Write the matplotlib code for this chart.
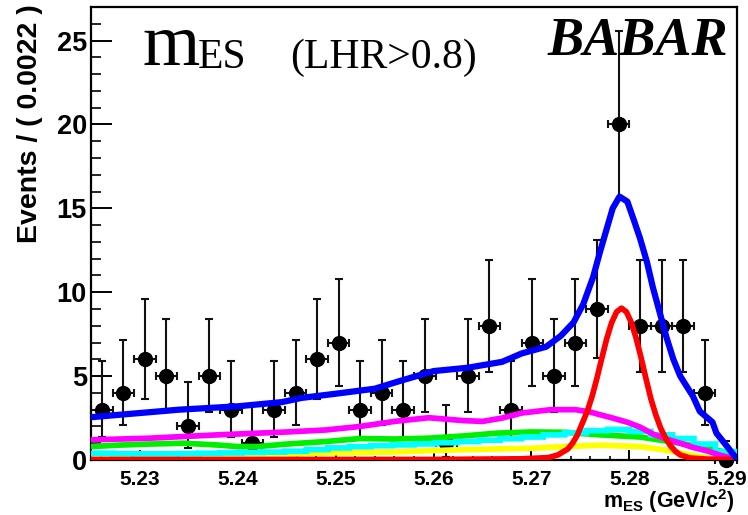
import math
import numpy as np
import matplotlib
matplotlib.use("Agg")
import matplotlib.pyplot as plt
from matplotlib.ticker import MultipleLocator, FormatStrFormatter

plt.rcParams['font.family'] = ['Liberation Sans', 'DejaVu Sans']
plt.rcParams['font.weight'] = 'bold'
plt.rcParams['mathtext.fontset'] = 'custom'
plt.rcParams['mathtext.rm'] = 'Liberation Sans:bold'
plt.rcParams['mathtext.bf'] = 'Liberation Sans:bold'
plt.rcParams['mathtext.default'] = 'bf'

# ---- binning and data ----
x_lo, x_hi = 5.225, 5.291
bin_width = 0.0022
counts = [3, 4, 6, 5, 2, 5, 3, 1, 3, 4, 6, 7, 3, 4, 3,
          5, 1, 5, 8, 3, 7, 5, 7, 9, 20, 8, 8, 8, 4, 0]

# ---- fit components (sampled curves) ----
total_x = [5.2250, 5.2300, 5.2340, 5.2400, 5.2445, 5.2465, 5.2500, 5.2540,
           5.2565, 5.2600, 5.2635, 5.2670, 5.2690, 5.2715, 5.2730, 5.2743,
           5.2753, 5.2763, 5.2770, 5.2777, 5.2783, 5.2790, 5.2798, 5.2804,
           5.2811, 5.2818, 5.2824, 5.2831, 5.2838, 5.2845, 5.2852, 5.2859,
           5.2865, 5.2872, 5.2879, 5.2885, 5.2889, 5.2900, 5.2910]
total_y = [2.55, 2.80, 3.00, 3.20, 3.45, 3.70, 3.95, 4.25,
           4.70, 5.30, 5.50, 5.85, 6.35, 6.75, 7.40, 8.20,
           9.30, 10.9, 12.4, 13.8, 15.0, 15.7, 15.4, 14.4,
           13.2, 11.8, 10.3, 8.80, 7.30, 6.00, 5.00, 4.35,
           3.80, 2.90, 2.55, 2.25, 1.60, 0.80, 0.05]

signal_x = [5.2250, 5.2600, 5.2690, 5.2717, 5.2727, 5.2737, 5.2742, 5.2747,
            5.2752, 5.2757, 5.2762, 5.2767, 5.2772, 5.2777, 5.2782, 5.2787,
            5.2792, 5.2797, 5.2802, 5.2807, 5.2812, 5.2817, 5.2822, 5.2827,
            5.2832, 5.2837, 5.2842, 5.2847, 5.2852, 5.2862, 5.2880, 5.2910]
signal_y = [0.03, 0.03, 0.07, 0.14, 0.30, 0.65, 1.00, 1.50,
            2.20, 2.90, 3.80, 4.90, 6.10, 7.25, 8.20, 8.83,
            9.05, 8.83, 8.20, 7.25, 6.10, 4.85, 3.65, 2.70,
            1.90, 1.30, 0.85, 0.52, 0.30, 0.12, 0.05, 0.03]

magenta_x = [5.2250, 5.2310, 5.2380, 5.2450, 5.2490, 5.2525, 5.2560, 5.2595,
             5.2630, 5.2650, 5.2670, 5.2690, 5.2720, 5.2745, 5.2760, 5.2770,
             5.2783, 5.2798, 5.2811, 5.2824, 5.2838, 5.2852, 5.2865, 5.2879,
             5.2893, 5.2910]
magenta_y = [1.20, 1.30, 1.50, 1.67, 1.79, 2.00, 2.30, 2.52,
             2.35, 2.30, 2.50, 2.80, 3.00, 3.00, 2.86, 2.70,
             2.50, 2.25, 1.96, 1.55, 1.25, 1.00, 0.75, 0.55,
             0.28, 0.02]

green_x = [5.2250, 5.2280, 5.2310, 5.2345, 5.2380, 5.2400, 5.2420, 5.2450,
           5.2490, 5.2525, 5.2560, 5.2595, 5.2630, 5.2665, 5.2700, 5.2735,
           5.2770, 5.2811, 5.2852, 5.2879, 5.2900, 5.2910]
green_y = [0.80, 0.89, 0.95, 1.00, 0.89, 0.80, 0.80, 0.95,
           1.10, 1.28, 1.25, 1.30, 1.43, 1.60, 1.67, 1.65,
           1.50, 1.37, 1.00, 0.70, 0.45, 0.05]

# binned background shape, one value per bin
cyan_y = [0.40, 0.38, 0.37, 0.37, 0.38, 0.40, 0.42, 0.45, 0.47, 0.52,
          0.62, 0.72, 0.80, 0.85, 0.90, 0.96, 1.03, 1.10, 1.18, 1.27,
          1.37, 1.50, 1.62, 1.75, 1.82, 1.70, 1.50, 1.28, 0.95, 0.50]

yellow_x = [5.2250, 5.2310, 5.2360, 5.2400, 5.2445, 5.2490, 5.2560, 5.2630,
            5.2700, 5.2735, 5.2770, 5.2811, 5.2842, 5.2862, 5.2883, 5.2910]
yellow_y = [0.05, 0.10, 0.18, 0.25, 0.33, 0.42, 0.48, 0.62,
            0.70, 0.80, 0.88, 0.80, 0.55, 0.30, 0.10, 0.02]


# ---- Poisson (68.27% central) intervals for the data points ----
def pois_cdf(k, mu):
    term = math.exp(-mu)
    s = term
    for i in range(1, k + 1):
        term *= mu / i
        s += term
    return s


def solve_mu(k, target):
    lo, hi = 0.0, 100.0
    for _ in range(200):
        mid = 0.5 * (lo + hi)
        if pois_cdf(k, mid) > target:
            lo = mid
        else:
            hi = mid
    return 0.5 * (lo + hi)


CL = 0.682689
alpha = 0.5 * (1 - CL)


def interval(n):
    if n == 0:
        return 0.0, -math.log(1 - CL)
    return solve_mu(n - 1, 1 - alpha), solve_mu(n, alpha)


n_bins = len(counts)
edges = x_lo + bin_width * np.arange(n_bins + 1)
centers = 0.5 * (edges[:-1] + edges[1:])
lo_err, hi_err = [], []
for n in counts:
    a, b = interval(n)
    lo_err.append(n - a)
    hi_err.append(b - n)

# ---- figure ----
W, H = 748, 515
fig = plt.figure(figsize=(W / 100, H / 100), dpi=100)
ax = fig.add_axes([91 / W, 55 / H, 646 / W, 453 / H])

eb = ax.errorbar(centers, counts, xerr=bin_width / 2, yerr=[lo_err, hi_err],
                 fmt='o', color='black', ecolor='#111111', ms=10,
                 elinewidth=1.5, capsize=3.2, capthick=1.5, zorder=2)
for art in eb.get_children():
    art.set_clip_on(False)

lw = 4.1
ax.plot(yellow_x, yellow_y, color='#ffff00', lw=lw, zorder=3.0,
        solid_capstyle='butt')
ax.plot(green_x, green_y, color='#00ee00', lw=lw, zorder=3.1,
        solid_capstyle='butt')
ax.plot(edges, list(cyan_y) + [cyan_y[-1]], drawstyle='steps-post',
        color='#00ffff', lw=lw, zorder=3.2, solid_capstyle='butt',
        solid_joinstyle='miter', snap=False)
ax.plot(magenta_x, magenta_y, color='#ff00ff', lw=lw, zorder=3.3,
        solid_capstyle='butt')
ax.plot(signal_x, signal_y, color='#ff0000', lw=lw, zorder=3.4,
        solid_capstyle='butt')
ax.plot(total_x, total_y, color='#0000ff', lw=4.5, zorder=3.5,
        solid_capstyle='butt')

ax.set_xlim(x_lo, x_hi)
ax.set_ylim(0, 27)

ax.xaxis.set_major_locator(MultipleLocator(0.01))
ax.xaxis.set_minor_locator(MultipleLocator(0.002))
ax.xaxis.set_major_formatter(FormatStrFormatter('%.2f'))
ax.yaxis.set_major_locator(MultipleLocator(5))
ax.yaxis.set_minor_locator(MultipleLocator(1))

ax.tick_params(axis='x', which='major', direction='in', length=7.5, width=1.4,
               top=False, labelsize=15, pad=7)
ax.tick_params(axis='x', which='minor', direction='in', length=3.2, width=1.2,
               top=False)
ax.tick_params(axis='y', which='major', direction='in', length=15, width=1.4,
               right=False, labelsize=19.5, pad=3)
ax.tick_params(axis='y', which='minor', direction='in', length=7, width=1.2,
               right=False)
for sp in ax.spines.values():
    sp.set_linewidth(1.6)

# axis titles
fig.text(30 / W, 1 - 4 / H, 'Events / ( 0.0022 )', rotation=90,
         ha='center', va='top', fontsize=20.5, fontweight='bold')
fig.text(734 / W, 1 - 508 / H, r'm$_{ES}$ (GeV/c$^{2}$)',
         ha='right', va='baseline', fontsize=15.5, fontweight='bold')

# labels inside the frame
serif = ['Liberation Serif', 'DejaVu Serif']
fig.text(143 / W, 1 - 65 / H, 'm', family=serif, fontweight='normal',
         fontsize=53, ha='left', va='baseline')
fig.text(198 / W, 1 - 68 / H, 'ES', family=serif, fontweight='normal',
         fontsize=30, ha='left', va='baseline')
fig.text(290 / W, 1 - 68 / H, '(LHR>0.8)', family=serif, fontweight='normal',
         fontsize=30, ha='left', va='baseline')
fig.text(728 / W, 1 - 55 / H, 'BABAR', family=serif, fontweight='bold',
         style='italic', fontsize=39, ha='right', va='baseline')

fig.savefig('out.png', dpi=100)
